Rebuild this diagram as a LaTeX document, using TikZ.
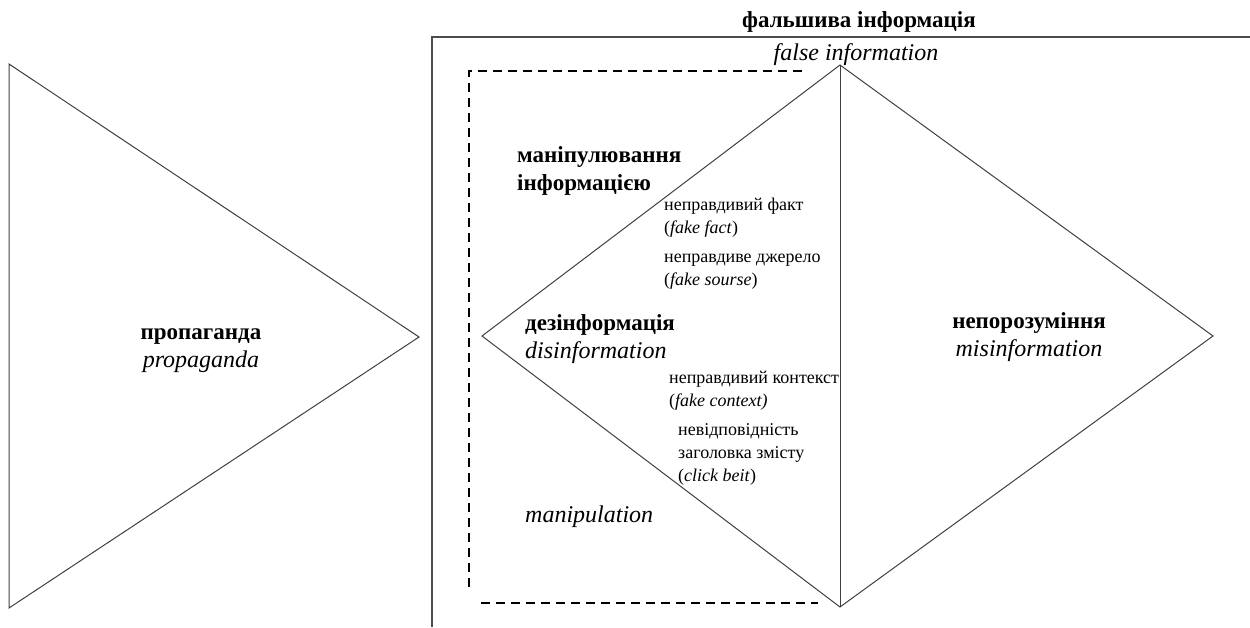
\documentclass[tikz,border=0pt]{standalone}
\usepackage{fontspec}
\setmainfont{Liberation Serif}
\usepackage{tikz}
\usetikzlibrary{positioning}

\tikzset{
	thinline/.style={draw=black!75, line width=1pt},
	frameline/.style={draw=black!70, line width=1.4pt},
	dashline/.style={draw=black, line width=2.6pt, dash pattern=on 9pt off 6pt},
	headlbl/.style={inner sep=0pt, align=center, font=\fontsize{23}{28}\selectfont},
	sidelbl/.style={inner sep=0pt, anchor=west, align=left, font=\fontsize{23}{28}\selectfont},
	smalllbl/.style={inner sep=0pt, anchor=west, align=left, font=\fontsize{18}{23}\selectfont}
}

\begin{document}
\begin{tikzpicture}[x=1pt,y=-1pt]
	\useasboundingbox (0,0) rectangle (1250,627);
	\newcommand\Bold[1]{\textbf{#1}}
	\newcommand\Ital[1]{{\fontsize{24}{28}\selectfont\itshape #1}}

	% propaganda triangle
	\draw[thinline] (9,64) -- (419,337) -- (9,608) -- cycle;

	% frame of false information
	\draw[frameline] (1250,37) -- (432,37) -- (432,627);

	% manipulation area
	\draw[dashline] (802,71) -- (469,71) -- (469,587);
	\draw[dashline] (481,603) -- (818,603);

	% diamond
	\draw[thinline] (840,65) -- (482,336) -- (840,607) -- (1213,336) -- cycle;
	\draw[thinline] (840,65) -- (840,607);

	\node[headlbl] (falseua) at (859,22) {\Bold{фальшива інформація}};
	\node[headlbl] (falseen) at (856,55) {\Ital{false information}};

	\node[headlbl] (prop) at (201,351) {\Bold{пропаганда}\\\Ital{propaganda}};
	\node[headlbl] (misinf) at (1029,337) {\Bold{непорозуміння}\\\Ital{misinformation}};

	\node[sidelbl] (manipua) at (517,171) {\Bold{маніпулювання}\\\Bold{інформацією}};
	\node[sidelbl] (disinf) at (525,339) {\Bold{дезінформація}\\\Ital{disinformation}};
	\node[sidelbl] (manipen) at (525,517) {\Ital{manipulation}};

	\node[smalllbl] (fact) at (664,218) {неправдивий факт\\(\textit{fake fact})};
	\node[smalllbl] (source) at (664,272) {неправдиве джерело\\(\textit{fake sourse})};
	\node[smalllbl] (context) at (669,391) {неправдивий контекст\\(\textit{fake context)}};
	\node[smalllbl] (clickbait) at (678,454) {невідповідність\\заголовка змісту\\(\textit{click beit})};
\end{tikzpicture}
\end{document}
